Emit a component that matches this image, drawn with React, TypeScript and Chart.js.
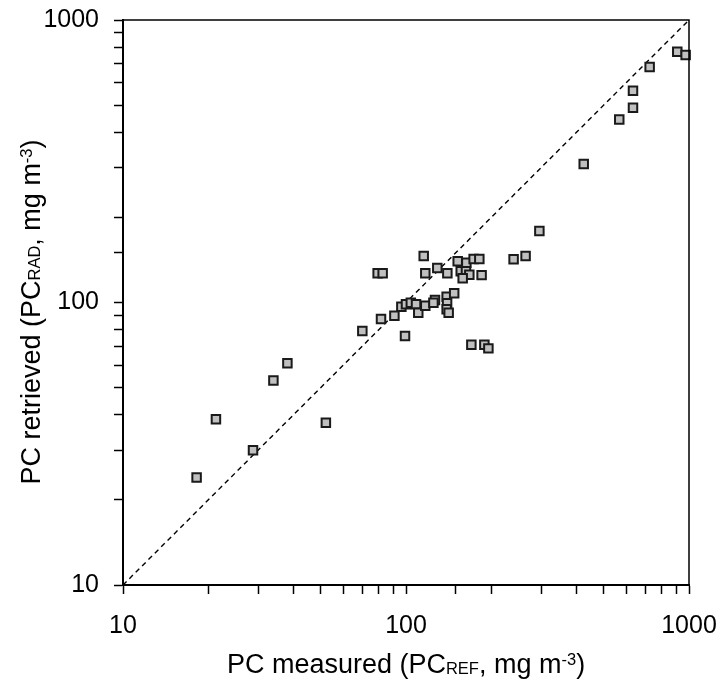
import React, { useEffect, useRef } from "react";
import { Chart, registerables } from "chart.js";

Chart.register(...registerables);

// PC measured (PC_REF) values, mg m-3
const measured = [
  18.2, 21.3, 28.8, 34.0, 38.1, 52.1, 70.1, 81.6, 91.0, 96.3,
  99.2, 100, 104, 108.5, 110.5, 117, 126.6, 125, 139.2, 139.7,
  139.2, 141.5, 148, 79.4, 82.7, 115.5, 117, 129, 140, 152.3,
  163.4, 173.4, 181.6, 156.1, 162.9, 167.4, 158.6, 185, 240, 264.6,
  296, 170.2, 189.2, 195.5, 424.6, 567, 634, 634, 726, 909,
  973,
];
// PC retrieved (PC_RAD) values, mg m-3
const retrieved = [
  24.0, 38.6, 30.0, 53.0, 60.9, 37.5, 79.3, 87.4, 89.7, 96.6,
  76.1, 98.5, 99.8, 98.5, 92.0, 97.4, 102, 99.8, 104.8, 99.3,
  94.6, 92.0, 107.8, 126.9, 126.9, 146.1, 126.9, 132.5, 126.9, 140,
  138.3, 142.6, 142.6, 129, 129, 125.5, 121.8, 125, 142.2, 146.1,
  179, 70.9, 70.9, 68.8, 309, 444, 489, 562, 682, 772,
  752,
];
// 1:1 line
const lineX = [10, 1000];
const lineY = [10, 1000];
const majorTicks = [10, 100, 1000];

const FONT = '"Liberation Sans", Arial, sans-serif';

type Seg = { t: string; small?: boolean; dy?: number };
const xTitle: Seg[] = [
  { t: "PC measured (PC" },
  { t: "REF", small: true, dy: 1 },
  { t: ", mg m" },
  { t: "-3", small: true, dy: -8 },
  { t: ")" },
];
const yTitle: Seg[] = [
  { t: "PC retrieved (PC" },
  { t: "RAD", small: true, dy: 0 },
  { t: ", mg m" },
  { t: "-3", small: true, dy: -8 },
  { t: ")" },
];

function drawRich(ctx: CanvasRenderingContext2D, segs: Seg[], cx: number, by: number) {
  const big = `27px ${FONT}`;
  const sm = `16.5px ${FONT}`;
  let total = 0;
  for (const s of segs) {
    ctx.font = s.small ? sm : big;
    total += ctx.measureText(s.t).width;
  }
  let x = cx - total / 2;
  ctx.textAlign = "left";
  ctx.textBaseline = "alphabetic";
  for (const s of segs) {
    ctx.font = s.small ? sm : big;
    ctx.fillText(s.t, x, by + (s.dy || 0));
    x += ctx.measureText(s.t).width;
  }
}

const framePlugin = {
  id: "frameAndTitles",
  afterDraw(chart: any) {
    const { ctx, chartArea } = chart;
    const { left, right, top, bottom } = chartArea;
    ctx.save();
    ctx.strokeStyle = "#000";
    ctx.lineWidth = 1.5;
    ctx.beginPath();
    ctx.moveTo(left, top);
    ctx.lineTo(right, top);
    ctx.lineTo(right, bottom);
    ctx.stroke();
    ctx.fillStyle = "#000";
    drawRich(ctx, xTitle, (left + right) / 2, 673);
    ctx.translate(40, 312);
    ctx.rotate(-Math.PI / 2);
    drawRich(ctx, yTitle, 0, 0);
    ctx.restore();
  },
};

const noPad = (s: any) => {
  s.paddingTop = 0;
  s.paddingBottom = 0;
  s.paddingLeft = 0;
  s.paddingRight = 0;
};

export default function App() {
  const ref = useRef<HTMLCanvasElement | null>(null);

  useEffect(() => {
    if (!ref.current) return;
    const points = measured.map((x, i) => ({ x, y: retrieved[i] }));
    const line = lineX.map((x, i) => ({ x, y: lineY[i] }));
    const tickCb = (v: any) => (majorTicks.includes(Number(v)) ? String(v) : "");
    const chart = new Chart(ref.current, {
      type: "scatter",
      data: {
        datasets: [
          {
            label: "PC",
            data: points,
            pointStyle: "rect",
            pointRadius: 6.0,
            pointBackgroundColor: "#c0c0c0",
            pointBorderColor: "#1a1a1a",
            pointBorderWidth: 2,
            clip: false as any,
          },
          {
            type: "line" as any,
            label: "1:1",
            data: line,
            borderColor: "#000",
            borderWidth: 1.4,
            borderDash: [5, 4],
            pointRadius: 0,
            showLine: true,
            fill: false,
          } as any,
        ],
      },
      options: {
        animation: false,
        responsive: false,
        devicePixelRatio: 1,
        layout: { padding: { top: 20, right: 32, left: 0, bottom: 0 } },
        plugins: { legend: { display: false }, tooltip: { enabled: false } },
        scales: {
          x: {
            type: "logarithmic",
            min: 10,
            max: 1000,
            position: "bottom",
            afterFit: (s: any) => { s.height = 94; noPad(s); },
            border: { color: "#000", width: 2 },
            grid: { drawOnChartArea: false, drawTicks: true, tickLength: 9, tickColor: "#000", tickWidth: 1.5 },
            ticks: { callback: tickCb, autoSkip: false, maxRotation: 0, padding: 17, color: "#000", font: { family: FONT, size: 25 } },
          },
          y: {
            type: "logarithmic",
            min: 10,
            max: 1000,
            position: "left",
            afterFit: (s: any) => { s.width = 123; noPad(s); },
            border: { color: "#000", width: 2 },
            grid: { drawOnChartArea: false, drawTicks: true, tickLength: 9, tickColor: "#000", tickWidth: 1.5 },
            ticks: { callback: tickCb, autoSkip: false, padding: 15, color: "#000", font: { family: FONT, size: 25 } },
          },
        },
      },
      plugins: [framePlugin],
    } as any);
    return () => chart.destroy();
  }, []);

  return (
    <div style={{ position: "fixed", left: 0, top: 0, width: 721, height: 679, background: "#fff" }}>
      <canvas ref={ref} width={721} height={679} style={{ display: "block" }} />
    </div>
  );
}
